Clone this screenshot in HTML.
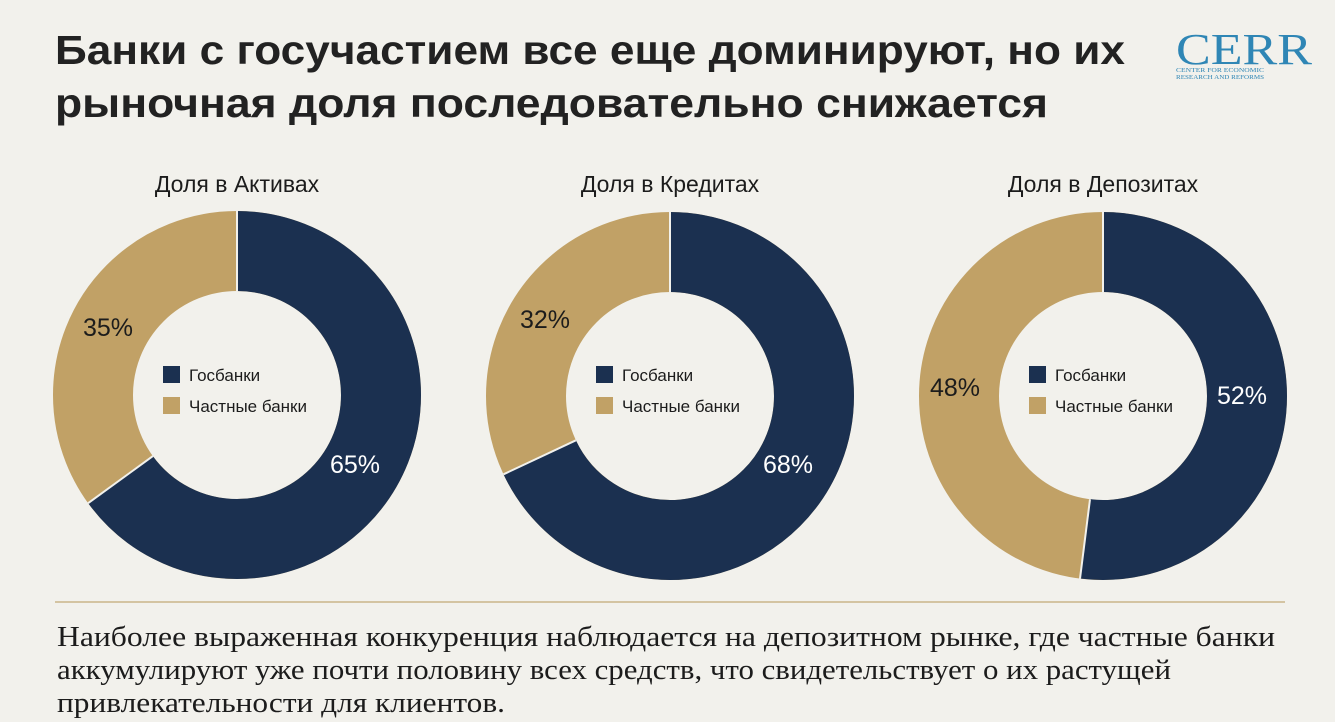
<!DOCTYPE html>
<html><head><meta charset="utf-8"><style>
html,body{margin:0;padding:0;background:#f2f1ec;}
svg{display:block}
.t{font-family:"Liberation Sans",sans-serif;font-weight:bold;fill:#222;font-size:41px}
.s{font-family:"Liberation Sans",sans-serif;fill:#1c1c1c;font-size:23px}
.l{font-family:"Liberation Sans",sans-serif;fill:#1c1c1c;font-size:17px}
.p{font-family:"Liberation Sans",sans-serif;font-size:25px}
.b{font-family:"Liberation Serif",serif;fill:#1c1c1c;font-size:28px}
</style></head><body>
<svg width="1335" height="722" viewBox="0 0 1335 722">
<rect width="1335" height="722" fill="#f2f1ec"/>
<text class="t" x="55" y="64" textLength="1070" lengthAdjust="spacingAndGlyphs">Банки с госучастием все еще доминируют, но их</text>
<text class="t" x="55" y="117" textLength="993" lengthAdjust="spacingAndGlyphs">рыночная доля последовательно снижается</text>
<text x="1176" y="64" font-family="Liberation Serif,serif" font-size="44" fill="#2f86b5" textLength="136" lengthAdjust="spacingAndGlyphs">CERR</text>
<text x="1176" y="72" font-family="Liberation Serif,serif" font-size="6.5" fill="#2f86b5" textLength="88" lengthAdjust="spacingAndGlyphs">CENTER FOR ECONOMIC</text>
<text x="1176" y="79" font-family="Liberation Serif,serif" font-size="6.5" fill="#2f86b5" textLength="88" lengthAdjust="spacingAndGlyphs">RESEARCH AND REFORMS</text>

<text class="s" x="237" y="192" text-anchor="middle">Доля в Активах</text>
<text class="s" x="670" y="192" text-anchor="middle">Доля в Кредитах</text>
<text class="s" x="1103" y="192" text-anchor="middle">Доля в Депозитах</text>

<g>
<circle cx="237" cy="395" r="144" fill="none" stroke="#c1a166" stroke-width="80"/>
<circle cx="237" cy="395" r="144" fill="none" stroke="#1b3050" stroke-width="80" stroke-dasharray="588.1 1000" transform="rotate(-90 237 395)"/>
<line x1="237" y1="291" x2="237" y2="211" stroke="#f2f1ec" stroke-width="2"/>
<line x1="152.9" y1="456.1" x2="88.1" y2="503.2" stroke="#f2f1ec" stroke-width="2"/>
<text class="p" x="83" y="336" fill="#1c1c1c">35%</text>
<text class="p" x="330" y="473" fill="#fff">65%</text>
<rect x="163" y="366" width="17" height="17" fill="#1b3050"/>
<rect x="163" y="397" width="17" height="17" fill="#c1a166"/>
<text class="l" x="189" y="381">Госбанки</text>
<text class="l" x="189" y="412">Частные банки</text>
</g>
<g>
<circle cx="670" cy="396" r="144" fill="none" stroke="#c1a166" stroke-width="80"/>
<circle cx="670" cy="396" r="144" fill="none" stroke="#1b3050" stroke-width="80" stroke-dasharray="615.3 1000" transform="rotate(-90 670 396)"/>
<line x1="670" y1="292" x2="670" y2="212" stroke="#f2f1ec" stroke-width="2"/>
<line x1="575.9" y1="440.3" x2="503.5" y2="474.3" stroke="#f2f1ec" stroke-width="2"/>
<text class="p" x="520" y="328" fill="#1c1c1c">32%</text>
<text class="p" x="763" y="473" fill="#fff">68%</text>
<rect x="596" y="366" width="17" height="17" fill="#1b3050"/>
<rect x="596" y="397" width="17" height="17" fill="#c1a166"/>
<text class="l" x="622" y="381">Госбанки</text>
<text class="l" x="622" y="412">Частные банки</text>
</g>
<g>
<circle cx="1103" cy="396" r="144" fill="none" stroke="#c1a166" stroke-width="80"/>
<circle cx="1103" cy="396" r="144" fill="none" stroke="#1b3050" stroke-width="80" stroke-dasharray="470.5 1000" transform="rotate(-90 1103 396)"/>
<line x1="1103" y1="292" x2="1103" y2="212" stroke="#f2f1ec" stroke-width="2"/>
<line x1="1090" y1="499.2" x2="1080" y2="578.6" stroke="#f2f1ec" stroke-width="2"/>
<text class="p" x="930" y="396" fill="#1c1c1c">48%</text>
<text class="p" x="1217" y="404" fill="#fff">52%</text>
<rect x="1029" y="366" width="17" height="17" fill="#1b3050"/>
<rect x="1029" y="397" width="17" height="17" fill="#c1a166"/>
<text class="l" x="1055" y="381">Госбанки</text>
<text class="l" x="1055" y="412">Частные банки</text>
</g>

<line x1="55" y1="602" x2="1285" y2="602" stroke="#c9b58a" stroke-width="1.5"/>
<text class="b" x="57" y="646" textLength="1218" lengthAdjust="spacingAndGlyphs">Наиболее выраженная конкуренция наблюдается на депозитном рынке, где частные банки</text>
<text class="b" x="57" y="679" textLength="1114" lengthAdjust="spacingAndGlyphs">аккумулируют уже почти половину всех средств, что свидетельствует о их растущей</text>
<text class="b" x="57" y="712" textLength="448" lengthAdjust="spacingAndGlyphs">привлекательности для клиентов.</text>
</svg>
</body></html>
